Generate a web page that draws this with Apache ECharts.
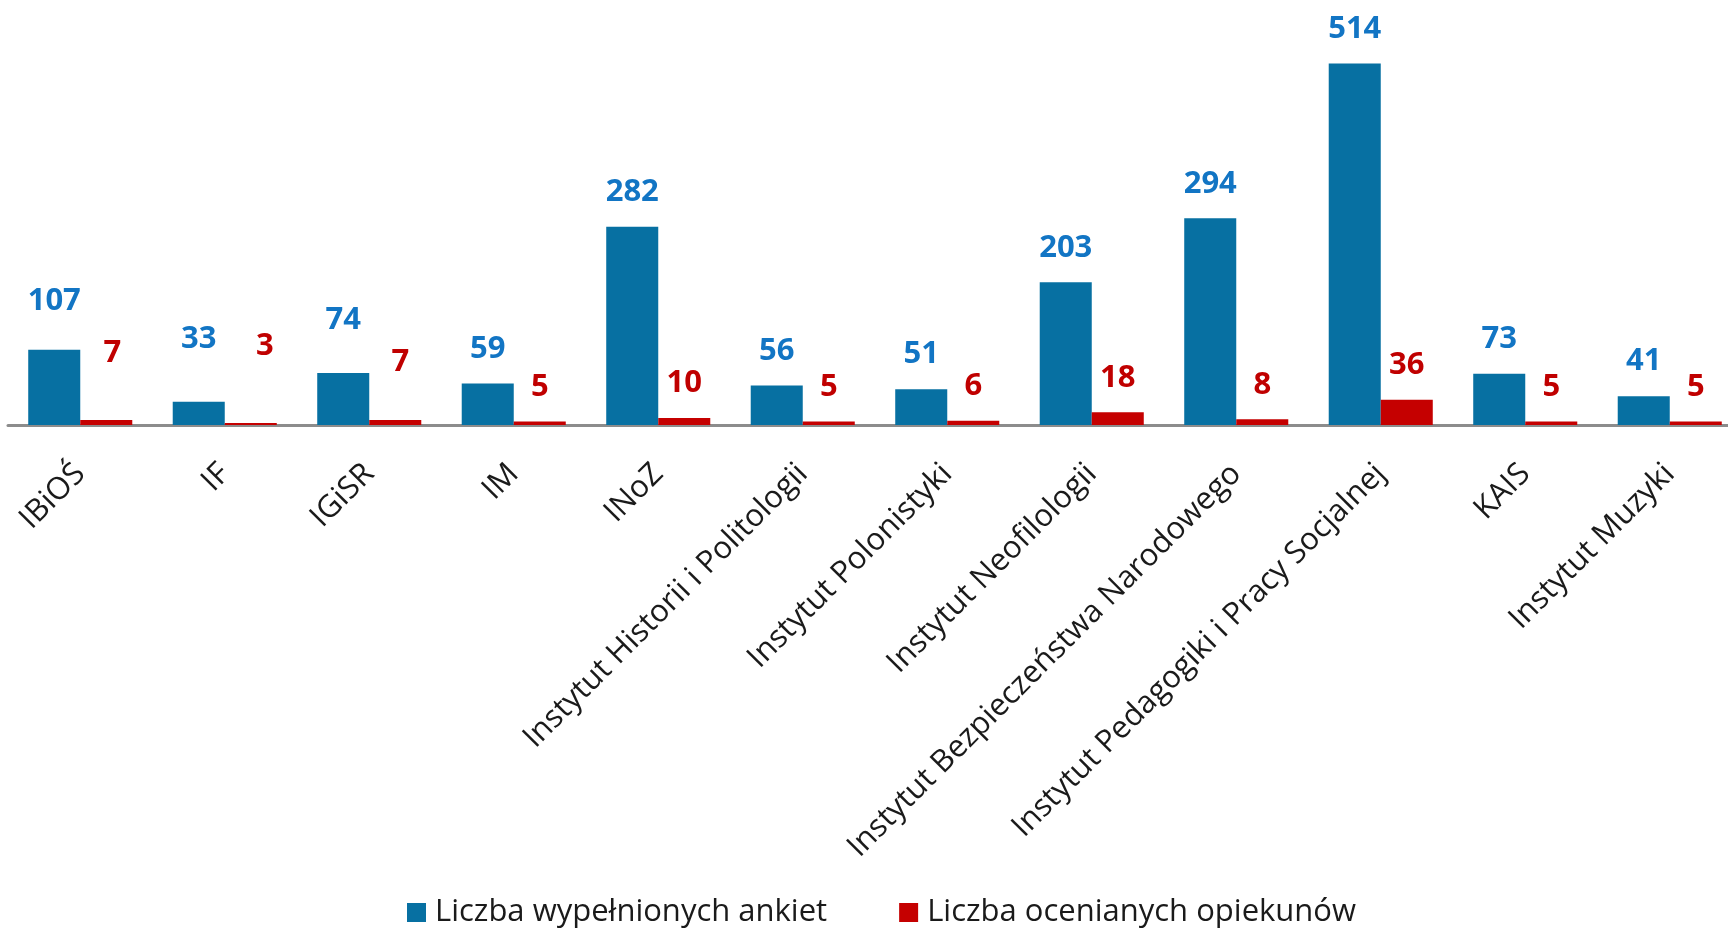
<!DOCTYPE html>
<html>
<head>
<meta charset="utf-8">
<style>
  html, body { margin: 0; padding: 0; background: #fff; }
  #main { width: 1728px; height: 929px; }
</style>
<script src="https://cdn.jsdelivr.net/npm/echarts@6/dist/echarts.min.js"></script>
</head>
<body>
<div id="main"></div>
<script>
// dane wykresu
const categories = [
  'IBiOŚ', 'IF', 'IGiSR', 'IM', 'INoZ',
  'Instytut Historii i Politologii', 'Instytut Polonistyki', 'Instytut Neofilologii',
  'Instytut Bezpieczeństwa Narodowego', 'Instytut Pedagogiki i Pracy Socjalnej',
  'KAIS', 'Instytut Muzyki'
];
const surveys = [107, 33, 74, 59, 282, 56, 51, 203, 294, 514, 73, 41];
const supervisors = [7, 3, 7, 5, 10, 5, 6, 18, 8, 36, 5, 5];

const seriesNames = ['Liczba wypełnionych ankiet', 'Liczba ocenianych opiekunów'];

// etykiety przesunięte ręcznie w oryginale: indeks -> [dx, dy]
const blueNudge = { 0: [0, -14], 1: [0, -28], 2: [0, -18] };
const redNudge = { 0: [6, -32], 1: [14, -42], 2: [5, -23] };

const font = '"Open Sans", "DejaVu Sans", sans-serif';

const withNudge = (values, nudge) => values.map((v, i) => {
  if (!nudge[i]) return v;
  return { value: v, label: { offset: nudge[i] } };
});

const chart = echarts.init(document.getElementById('main'));

chart.setOption({
  animation: false,
  backgroundColor: '#ffffff',
  grid: {
    left: 8,
    top: 3,
    width: 1734,
    height: 422,
    containLabel: false,
    outerBoundsMode: 'none'
  },
  legend: {
    data: seriesNames,
    left: 402,
    top: 892,
    icon: 'rect',
    itemWidth: 19,
    itemHeight: 19,
    itemGap: 72,
    textStyle: {
      fontFamily: font,
      fontSize: 31,
      color: '#1a1a1a',
      padding: [0, 0, 0, 4]
    }
  },
  xAxis: {
    type: 'category',
    data: categories,
    axisTick: { show: false },
    axisLine: { lineStyle: { color: '#8c8c8c', width: 3 } },
    axisLabel: {
      interval: 0,
      rotate: 45,
      margin: 44,
      fontFamily: font,
      fontSize: 31,
      color: '#1a1a1a'
    }
  },
  yAxis: {
    type: 'value',
    min: 0,
    max: 600,
    show: false,
    splitLine: { show: false }
  },
  series: [
    {
      name: seriesNames[0],
      type: 'bar',
      data: withNudge(surveys, blueNudge),
      barGap: '0%',
      barCategoryGap: '28%',
      itemStyle: { color: '#0770a2' },
      label: {
        show: true,
        position: 'top',
        distance: 19,
        fontFamily: font,
        fontWeight: 'bold',
        fontSize: 31,
        color: '#1275c4'
      }
    },
    {
      name: seriesNames[1],
      type: 'bar',
      data: withNudge(supervisors, redNudge),
      itemStyle: { color: '#c50000' },
      label: {
        show: true,
        position: 'top',
        distance: 19,
        fontFamily: font,
        fontWeight: 'bold',
        fontSize: 31,
        color: '#c00000'
      }
    }
  ]
});
</script>
</body>
</html>
